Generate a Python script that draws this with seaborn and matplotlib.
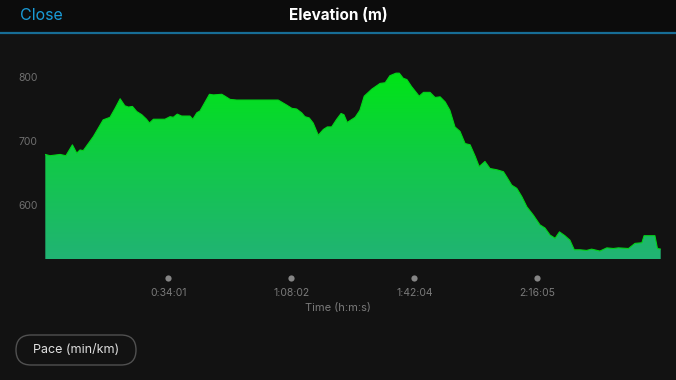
import numpy as np
import pandas as pd
import matplotlib
matplotlib.use("Agg")
import matplotlib.pyplot as plt
import matplotlib.transforms as mtransforms
from matplotlib.patches import FancyBboxPatch, Rectangle
from matplotlib.lines import Line2D
from matplotlib.colors import LinearSegmentedColormap
import seaborn as sns

# ---------------- data ----------------
time_min = [0.0, 1.3, 4.1, 5.7, 7.5, 8.7, 9.6, 10.5, 13.3, 16.0, 17.9, 19.3, 20.7,
            22.0, 23.0, 24.1, 25.3, 26.7, 28.0, 28.8, 29.9, 33.1, 34.5, 35.4, 36.5,
            37.7, 40.0, 40.8, 41.9, 42.8, 45.4, 46.5, 48.8, 49.7, 51.1, 52.9, 64.4,
            66.8, 68.2, 69.5, 70.9, 71.8, 73.0, 74.1, 75.5, 76.9, 78.0, 79.2, 80.6,
            81.8, 82.6, 83.5, 85.7, 87.0, 88.2, 90.3, 92.6, 94.0, 95.3, 97.0, 97.9,
            99.0, 100.0, 101.3, 103.4, 104.6, 106.4, 107.8, 109.2, 110.6, 111.9,
            113.3, 114.7, 116.1, 117.5, 118.9, 120.0, 121.6, 123.0, 124.9, 126.7,
            127.6, 129.0, 130.4, 131.8, 133.2, 135.0, 136.8, 138.2, 139.6, 141.0,
            142.2, 143.7, 145.1, 146.3, 147.9, 149.7, 151.1, 153.4, 155.3, 157.1,
            158.5, 161.3, 163.1, 165.0, 165.6, 168.6, 169.3, 170.2]
elevation_m = [679, 677, 679, 677, 694, 681, 686, 685, 707, 733, 737, 751, 766,
               755, 753, 754, 746, 741, 734, 728, 734, 734, 738, 737, 742,
               739, 739, 734, 744, 747, 773, 772, 773, 770, 765, 764, 764,
               756, 751, 750, 744, 738, 736, 728, 709, 718, 722, 722, 734,
               743, 741, 729, 737, 748, 770, 781, 790, 791, 802, 806, 806,
               798, 796, 785, 770, 776, 776, 768, 769, 761, 748,
               722, 715, 696, 694, 676, 660, 668, 657, 655, 652,
               644, 631, 626, 613, 597, 584, 569, 564, 553, 548,
               558, 552, 545, 530, 530, 529, 531, 528, 533, 532,
               533, 532, 540, 541, 552, 552, 532, 531]
tick_minutes = [34.017, 68.033, 102.067, 136.083]
tick_labels = ["0:34:01", "1:08:02", "1:42:04", "2:16:05"]
y_ticks = [600, 700, 800]

df = pd.DataFrame({"time": time_min, "elev": elevation_m})

# ---------------- style ----------------
sns.set_theme(style="dark")
plt.rcParams["font.family"] = ["Inter", "DejaVu Sans"]

BG = "#121212"
W, H = 676, 380
fig = plt.figure(figsize=(W / 100, H / 100), dpi=100, facecolor=BG)

ymin, ymax = 515.6, 830.0
xmin, xmax = 0.0, 170.2
px_per_m = 0.64
top_px = 77 - (ymax - 800) * px_per_m
left_px, right_px, bottom_px = 45.3, 660.7, 259.0
ax = fig.add_axes([left_px / W, 1 - bottom_px / H,
                   (right_px - left_px) / W, (bottom_px - top_px) / H])
ax.set_facecolor("none")
for s in ax.spines.values():
    s.set_visible(False)
ax.set_xlim(xmin, xmax)
ax.set_ylim(ymin, ymax)

# gradient fill clipped to the elevation profile
cmap = LinearSegmentedColormap.from_list("elev", ["#21b374", "#12c84a", "#00e516"])
grad = np.linspace(0, 1, 256).reshape(-1, 1)
poly = ax.fill_between(df["time"], df["elev"], ymin, color="none", lw=0)
im = ax.imshow(grad, extent=[xmin, xmax, ymin, max(elevation_m)], origin="lower",
               aspect="auto", cmap=cmap, zorder=1)
im.set_clip_path(poly.get_paths()[0], transform=ax.transData)
sns.lineplot(data=df, x="time", y="elev", ax=ax, color="#02d41a", lw=0.8,
             zorder=2, sort=False)
ax.set_xlim(xmin, xmax)
ax.set_ylim(ymin, ymax)

# y ticks
ax.set_yticks(y_ticks)
ax.set_yticklabels([str(v) for v in y_ticks])
ax.tick_params(axis="y", length=0, pad=5.5, labelsize=7.5, labelcolor="#6f6f6f")

# x ticks with dot markers
ax.set_xticks(tick_minutes)
ax.set_xticklabels(tick_labels)
ax.tick_params(axis="x", length=0, pad=21, labelsize=7.5, labelcolor="#7a7a7a")
ax.set_xlabel("")
ax.set_ylabel("")
ax.grid(False)
trans = mtransforms.blended_transform_factory(ax.transData, ax.transAxes)
ax.scatter(tick_minutes, [-19 / (bottom_px - top_px)] * len(tick_minutes),
           transform=trans, clip_on=False, s=20, color="#858585", lw=0, zorder=3)
fig.text(338 / W, 1 - 308 / H, "Time (h:m:s)", ha="center", va="center",
         fontsize=8, color="#7a7a7a")

# header
fig.add_artist(Rectangle((0, 1 - 33 / H), 1, 33 / H, transform=fig.transFigure,
                         facecolor="#0c0c0c", edgecolor="none", zorder=0))
fig.add_artist(Line2D([0, 1], [1 - 33 / H, 1 - 33 / H], transform=fig.transFigure,
                      color="#176d96", lw=1.6))
fig.text(20 / W, 1 - 16 / H, "Close", ha="left", va="center", fontsize=11.5,
         color="#1a9bd7")
fig.text(338 / W, 1 - 16 / H, "Elevation (m)", ha="center", va="center",
         fontsize=11, color="white", fontweight="bold")

# pace button
btn = FancyBboxPatch((16, H - 365), 120, 30, boxstyle="round,pad=0,rounding_size=15",
                     transform=None, facecolor="none", edgecolor="#505050", lw=1.0)
fig.add_artist(btn)
fig.text(76 / W, 1 - 350 / H, "Pace (min/km)", ha="center", va="center",
         fontsize=9, color="#e0e0e0")

fig.savefig("out.png", dpi=100, facecolor=BG)
